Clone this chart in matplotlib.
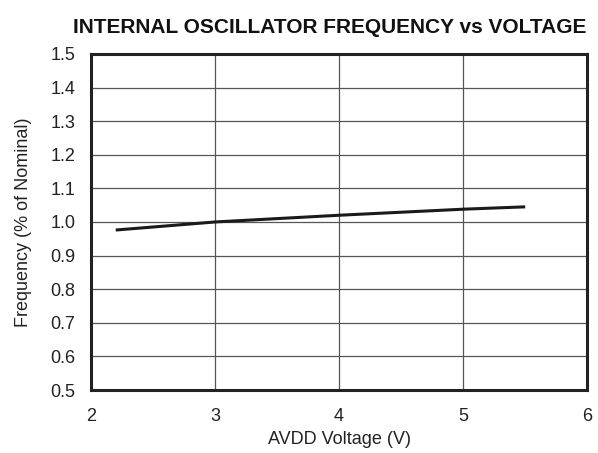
import numpy as np
import matplotlib
matplotlib.use("Agg")
import matplotlib.pyplot as plt

plt.rcParams['font.family'] = ['Liberation Sans', 'DejaVu Sans']

# data
voltage = [2.2, 3.0, 4.0, 5.0, 5.5]
freq = [0.976, 1.000, 1.020, 1.038, 1.045]
x_ticks = [2, 3, 4, 5, 6]
y_ticks = np.round(np.arange(0.5, 1.51, 0.1), 1)

fig = plt.figure(figsize=(5.98, 4.53), dpi=100)
ax = fig.add_axes([0.152, 0.139, 0.830, 0.742])

ax.plot(voltage, freq, color='#1a1a1a', linewidth=2.2, solid_capstyle='butt')

ax.set_xlim(2, 6)
ax.set_ylim(0.5, 1.5)
ax.set_xticks(x_ticks)
ax.set_yticks(y_ticks)
ax.set_yticklabels([f"{v:.1f}" for v in y_ticks])
ax.tick_params(length=0, labelsize=13, pad=11, colors='#222222')
ax.tick_params(axis='x', pad=13)
ax.grid(True, color='#555555', linewidth=0.9)
ax.set_axisbelow(True)
for s in ax.spines.values():
    s.set_linewidth(2.2)
    s.set_color('#222222')

ax.set_xlabel('AVDD Voltage (V)', fontsize=13, color='#222222', labelpad=4)
ax.set_ylabel('Frequency (% of Nominal)', fontsize=13, color='#222222', labelpad=13)

fig.text(0.98, 0.927, 'INTERNAL OSCILLATOR FREQUENCY vs VOLTAGE', ha='right',
         va='baseline', fontsize=15, fontweight='bold', color='#111111')

fig.savefig('out.png', dpi=100)
